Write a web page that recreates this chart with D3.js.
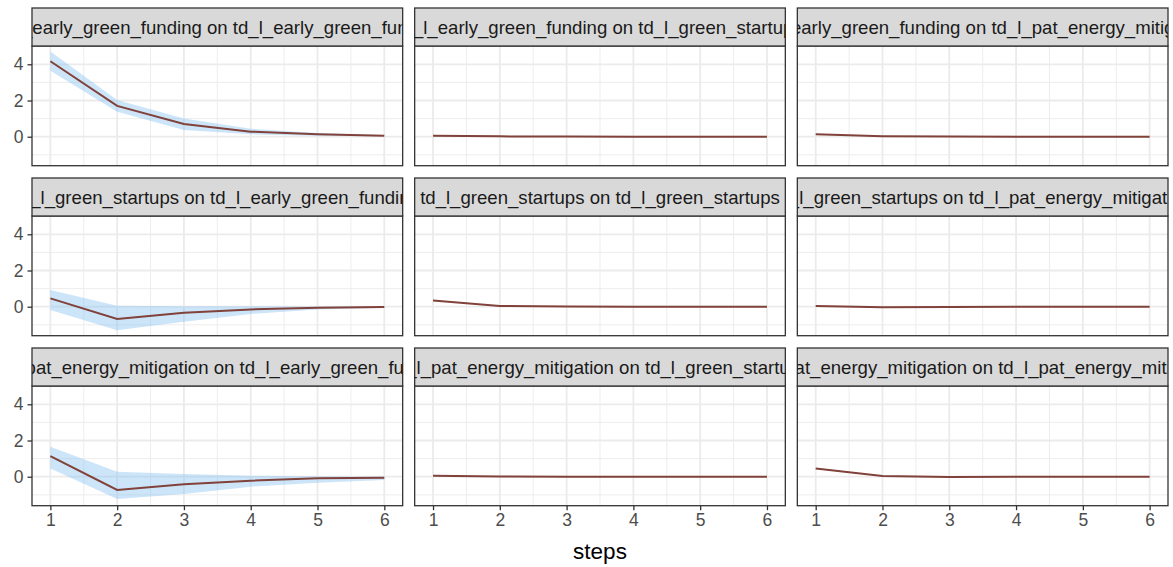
<!DOCTYPE html>
<html><head><meta charset="utf-8">
<script src="https://cdn.jsdelivr.net/npm/d3@7"></script>
<style>
body{margin:0;background:#fff}
svg{display:block}
text{font-family:"Liberation Sans",Arial,Helvetica,sans-serif}
</style>
</head><body>
<svg id="chart" width="1173" height="567"></svg>
<script>
// ---- data ----
const variables = ["td_l_early_green_funding", "td_l_green_startups", "td_l_pat_energy_mitigation"];
const steps = [1, 2, 3, 4, 5, 6];
const xTicks = [1, 2, 3, 4, 5, 6];
const yTicks = [0, 2, 4];
const xMinor = [1.5, 2.5, 3.5, 4.5, 5.5];
const yMinor = [-1, 1, 3];
const xTitle = "steps";
// panels in reading order: row = impulse variable, column = response variable
const irfCentre = [
  [4.17, 1.70, 0.70, 0.28, 0.13, 0.05],
  [0.05, 0.02, 0.01, 0.00, 0.00, 0.00],
  [0.13, 0.03, 0.01, 0.00, 0.00, 0.00],
  [0.46, -0.68, -0.33, -0.15, -0.06, -0.02],
  [0.35, 0.04, 0.01, 0.00, 0.00, 0.00],
  [0.04, -0.03, -0.01, 0.00, 0.00, 0.00],
  [1.14, -0.73, -0.42, -0.22, -0.09, -0.05],
  [0.05, 0.01, 0.00, 0.00, 0.00, 0.00],
  [0.46, 0.04, -0.01, 0.00, 0.00, 0.00]
];
const irfLower = [
  [3.65, 1.38, 0.37, 0.13, 0.06, 0.02],
  [0.03, 0.01, 0.00, 0.00, 0.00, 0.00],
  [0.11, 0.02, 0.00, 0.00, 0.00, 0.00],
  [-0.18, -1.30, -0.83, -0.40, -0.15, -0.05],
  [0.33, 0.03, 0.00, 0.00, 0.00, 0.00],
  [0.02, -0.04, -0.02, 0.00, 0.00, 0.00],
  [0.46, -1.23, -0.96, -0.55, -0.33, -0.18],
  [0.04, 0.00, 0.00, 0.00, 0.00, 0.00],
  [0.44, 0.02, -0.02, -0.01, 0.00, 0.00]
];
const irfUpper = [
  [4.71, 2.03, 1.00, 0.44, 0.20, 0.08],
  [0.07, 0.03, 0.02, 0.01, 0.00, 0.00],
  [0.15, 0.04, 0.02, 0.01, 0.00, 0.00],
  [0.92, 0.05, 0.02, 0.02, 0.01, 0.00],
  [0.37, 0.05, 0.02, 0.01, 0.00, 0.00],
  [0.06, -0.02, 0.00, 0.00, 0.00, 0.00],
  [1.66, 0.28, 0.15, 0.06, 0.02, 0.00],
  [0.06, 0.02, 0.01, 0.00, 0.00, 0.00],
  [0.48, 0.06, 0.01, 0.01, 0.00, 0.00]
];

// ---- layout ----
const svg = d3.select("#chart");
const plotLeft = 32, plotRight = 1168, colGap = 12;
const panelW = (plotRight - plotLeft - 2 * colGap) / 3;
const top0 = 8, stripH = 38, panelH = 119.7, rowPitch = 170;

const xExt = d3.extent(steps);
const xPad = (xExt[1] - xExt[0]) * 0.055;
const yMin = d3.min(irfLower.flat()), yMax = d3.max(irfUpper.flat());
const yPad = (yMax - yMin) * 0.05;

const fontFam = '"Liberation Sans",Arial,Helvetica,sans-serif';
const gridCol = "#ebebeb";

for (let r = 0; r < 3; r++) {
  for (let c = 0; c < 3; c++) {
    const i = r * 3 + c;
    const x0 = plotLeft + c * (panelW + colGap);
    const sTop = top0 + r * rowPitch;
    const pTop = sTop + stripH;
    const pBot = pTop + panelH;
    const x = d3.scaleLinear().domain([xExt[0] - xPad, xExt[1] + xPad]).range([x0, x0 + panelW]);
    const y = d3.scaleLinear().domain([yMin - yPad, yMax + yPad]).range([pBot, pTop]);
    const g = svg.append("g");

    const cid = "clip" + i;
    svg.append("clipPath").attr("id", cid).append("rect")
      .attr("x", x0).attr("y", pTop).attr("width", panelW).attr("height", panelH);
    const sid = "sclip" + i;
    svg.append("clipPath").attr("id", sid).append("rect")
      .attr("x", x0).attr("y", sTop).attr("width", panelW).attr("height", stripH);

    // grid
    const grid = g.append("g").attr("clip-path", `url(#${cid})`);
    grid.selectAll(".xm").data(xMinor).join("line")
      .attr("x1", d => x(d)).attr("x2", d => x(d)).attr("y1", pTop).attr("y2", pBot)
      .attr("stroke", gridCol).attr("stroke-width", 0.9);
    grid.selectAll(".ym").data(yMinor).join("line")
      .attr("x1", x0).attr("x2", x0 + panelW).attr("y1", d => y(d)).attr("y2", d => y(d))
      .attr("stroke", gridCol).attr("stroke-width", 0.9);
    grid.selectAll(".xM").data(xTicks).join("line")
      .attr("x1", d => x(d)).attr("x2", d => x(d)).attr("y1", pTop).attr("y2", pBot)
      .attr("stroke", gridCol).attr("stroke-width", 1.8);
    grid.selectAll(".yM").data(yTicks).join("line")
      .attr("x1", x0).attr("x2", x0 + panelW).attr("y1", d => y(d)).attr("y2", d => y(d))
      .attr("stroke", gridCol).attr("stroke-width", 1.8);

    // ribbon + line
    const pts = steps.map((s, k) => ({s, lo: irfLower[i][k], hi: irfUpper[i][k], m: irfCentre[i][k]}));
    const area = d3.area().x(d => x(d.s)).y0(d => y(d.lo)).y1(d => y(d.hi));
    const line = d3.line().x(d => x(d.s)).y(d => y(d.m));
    const marks = g.append("g").attr("clip-path", `url(#${cid})`);
    marks.append("path").attr("d", area(pts)).attr("fill", "#82bef0").attr("fill-opacity", 0.4);
    marks.append("path").attr("d", line(pts)).attr("fill", "none")
      .attr("stroke", "#80423a").attr("stroke-width", 2);

    // border
    g.append("rect").attr("x", x0).attr("y", pTop).attr("width", panelW).attr("height", panelH)
      .attr("fill", "none").attr("stroke", "#333333").attr("stroke-width", 1.3);

    // strip
    g.append("rect").attr("x", x0).attr("y", sTop).attr("width", panelW).attr("height", stripH)
      .attr("fill", "#d9d9d9").attr("stroke", "#333333").attr("stroke-width", 1.3);
    g.append("g").attr("clip-path", `url(#${sid})`).append("text")
      .attr("x", x0 + panelW / 2).attr("y", sTop + stripH / 2 + 6.5)
      .attr("text-anchor", "middle").attr("font-size", 18.6).attr("fill", "#1a1a1a")
      .text(`${variables[r]} on ${variables[c]}`);

    // y axis
    if (c === 0) {
      const ya = d3.axisLeft(y).tickValues(yTicks).tickSize(4.5).tickPadding(4).tickFormat(d3.format("d"));
      const ag = g.append("g").attr("transform", `translate(${x0},0)`).call(ya);
      ag.select(".domain").remove();
      ag.selectAll("line").attr("stroke", "#333333").attr("stroke-width", 1.3);
      ag.selectAll("text").attr("font-size", 17.5).attr("fill", "#4d4d4d").attr("font-family", fontFam);
    }
    // x axis
    if (r === 2) {
      const xa = d3.axisBottom(x).tickValues(xTicks).tickSize(4.5).tickPadding(3).tickFormat(d3.format("d"));
      const ag = g.append("g").attr("transform", `translate(0,${pBot})`).call(xa);
      ag.select(".domain").remove();
      ag.selectAll("line").attr("stroke", "#333333").attr("stroke-width", 1.3);
      ag.selectAll("text").attr("font-size", 17.5).attr("fill", "#4d4d4d").attr("font-family", fontFam);
    }
  }
}

svg.append("text").attr("x", (plotLeft + plotRight) / 2).attr("y", 559)
  .attr("text-anchor", "middle").attr("font-size", 22.5).attr("fill", "#000")
  .text(xTitle);
</script>
</body></html>
